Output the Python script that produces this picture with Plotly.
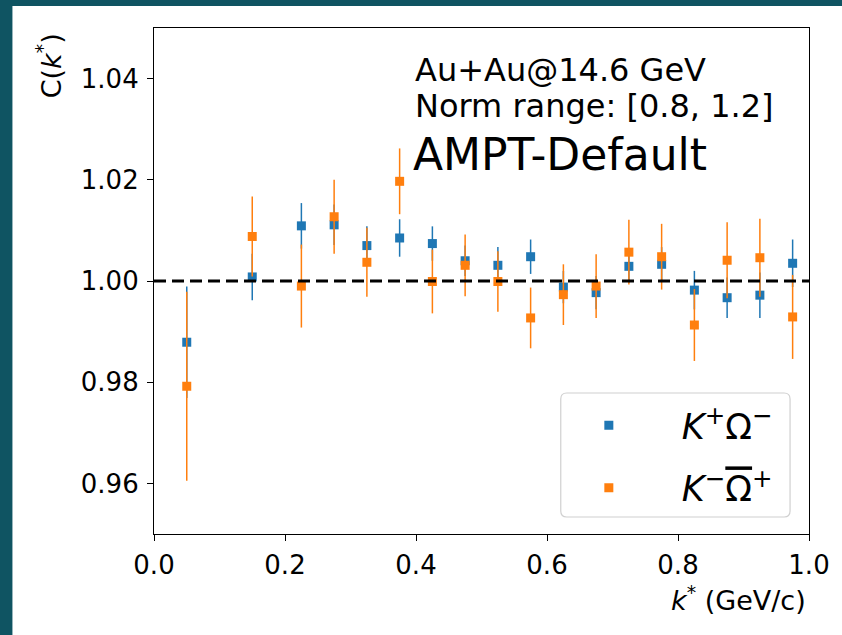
import plotly.graph_objects as go

# ---- data ----
k_star = [0.05, 0.15, 0.225, 0.275, 0.325, 0.375, 0.425, 0.475, 0.525, 0.575,
          0.625, 0.675, 0.725, 0.775, 0.825, 0.875, 0.925, 0.975]

c_kp_om = [0.9879, 1.0008, 1.0109, 1.0111, 1.0070, 1.0085, 1.0074, 1.0040, 1.0031, 1.0048,
           0.9988, 0.9977, 1.0029, 1.0033, 0.9982, 0.9967, 0.9972, 1.0035]
e_kp_om = [0.0110, 0.0046, 0.0045, 0.0040, 0.0038, 0.0037, 0.0034, 0.0030, 0.0036, 0.0034,
           0.0032, 0.0033, 0.0033, 0.0034, 0.0038, 0.0040, 0.0045, 0.0047]

c_km_omb = [0.9792, 1.0088, 0.9990, 1.0127, 1.0037, 1.0197, 0.9999, 1.0031, 0.9999, 0.9927,
            0.9973, 0.9990, 1.0057, 1.0048, 0.9913, 1.0041, 1.0046, 0.9929]
e_km_omb = [0.0187, 0.0079, 0.0082, 0.0073, 0.0068, 0.0065, 0.0063, 0.0061, 0.0060, 0.0060,
            0.0060, 0.0063, 0.0064, 0.0065, 0.0071, 0.0075, 0.0077, 0.0083]

x_ticks = [0.0, 0.2, 0.4, 0.6, 0.8, 1.0]
x_tick_labels = ["0.0", "0.2", "0.4", "0.6", "0.8", "1.0"]
y_ticks = [0.96, 0.98, 1.00, 1.02, 1.04]
y_tick_labels = ["0.96", "0.98", "1.00", "1.02", "1.04"]

label_kp = "<i>K</i><sup>+</sup>Ω<sup>−</sup>"
label_km = "<i>K</i><sup>−</sup><span style=\"text-decoration:overline\">Ω</span><sup>+</sup>"

BLUE = "#1f77b4"
ORANGE = "#ff7f0e"
FONT = "DejaVu Sans"

# ---- figure geometry (pixels) ----
W, H = 842, 635
L, R, T, B = 154, 811, 28, 534
pw, ph = R - L, B - T


def px(xp):
    return (xp - L) / pw


def py(yp):
    return (B - yp) / ph


fig = go.Figure()

fig.add_trace(go.Scatter(
    x=k_star, y=c_kp_om, mode="markers", name=label_kp, legendgroup="a",
    marker=dict(symbol="square", size=9, color=BLUE),
    error_y=dict(type="data", array=e_kp_om, color=BLUE, thickness=1.5, width=0),
))
fig.add_trace(go.Scatter(
    x=k_star, y=c_km_omb, mode="markers", name=label_km, legendgroup="b",
    marker=dict(symbol="square", size=9, color=ORANGE),
    error_y=dict(type="data", array=e_km_omb, color=ORANGE, thickness=1.5, width=0),
))

# reference line at C = 1
fig.add_shape(type="line", xref="paper", yref="y", x0=0, x1=1, y0=1.0, y1=1.0,
              line=dict(color="black", width=3, dash="12px,6px"), layer="above")

# white figure panel over teal page
fig.add_shape(type="rect", xref="paper", yref="paper",
              x0=px(12), x1=px(W + 5), y0=py(H + 5), y1=py(6),
              fillcolor="white", line=dict(width=0), layer="below")

# legend frame (rounded)
lx0, lx1, ly0, ly1, r = 562, 792, 393, 517, 6
path = (f"M {px(lx0 + r)},{py(ly0)} L {px(lx1 - r)},{py(ly0)} "
        f"Q {px(lx1)},{py(ly0)} {px(lx1)},{py(ly0 + r)} "
        f"L {px(lx1)},{py(ly1 - r)} Q {px(lx1)},{py(ly1)} {px(lx1 - r)},{py(ly1)} "
        f"L {px(lx0 + r)},{py(ly1)} Q {px(lx0)},{py(ly1)} {px(lx0)},{py(ly1 - r)} "
        f"L {px(lx0)},{py(ly0 + r)} Q {px(lx0)},{py(ly0)} {px(lx0 + r)},{py(ly0)} Z")
fig.add_shape(type="path", xref="paper", yref="paper", path=path,
              fillcolor="rgba(255,255,255,0.8)", line=dict(color="#d0d0d0", width=1.2),
              layer="above")

# text annotations
fig.add_annotation(x=px(414), y=py(70), xref="paper", yref="paper", text="Au+Au@14.6 GeV",
                   showarrow=False, xanchor="left", yanchor="middle",
                   font=dict(family=FONT, size=32, color="black"))
fig.add_annotation(x=px(414), y=py(106), xref="paper", yref="paper", text="Norm range: [0.8, 1.2]",
                   showarrow=False, xanchor="left", yanchor="middle",
                   font=dict(family=FONT, size=32, color="black"))
fig.add_annotation(x=px(412), y=py(154), xref="paper", yref="paper", text="AMPT-Default",
                   showarrow=False, xanchor="left", yanchor="middle",
                   font=dict(family=FONT, size=44, color="black"))

# axis titles
fig.add_annotation(x=px(48), y=py(66), xref="paper", yref="paper",
                   text="C(<i>k</i><sup>*</sup>)", showarrow=False, textangle=-90,
                   xanchor="center", yanchor="middle",
                   font=dict(family=FONT, size=27, color="black"))
fig.add_annotation(x=px(810), y=py(598), xref="paper", yref="paper",
                   text="<i>k</i><sup>*</sup> (GeV/c)", showarrow=False,
                   xanchor="right", yanchor="middle",
                   font=dict(family=FONT, size=27, color="black"))

fig.update_layout(
    width=W, height=H,
    margin=dict(l=L, r=W - R, t=T, b=H - B, pad=0),
    paper_bgcolor="#0f5462",
    plot_bgcolor="white",
    font=dict(family=FONT, size=26, color="black"),
    showlegend=True,
    legend=dict(x=px(537), y=py(396), xanchor="left", yanchor="top",
                bgcolor="rgba(0,0,0,0)", borderwidth=0,
                font=dict(family=FONT, size=35, color="black"),
                itemwidth=136, tracegroupgap=14, traceorder="grouped"),
    xaxis=dict(range=[0, 1], tickvals=x_ticks, ticktext=x_tick_labels,
               showgrid=False, zeroline=False, showline=True, linecolor="black",
               linewidth=1.2, mirror=True, ticks="outside", ticklen=6, tickwidth=1.2,
               tickcolor="black", ticklabelstandoff=2,
               tickfont=dict(family=FONT, size=26, color="black")),
    yaxis=dict(range=[0.95, 1.05], tickvals=y_ticks, ticktext=y_tick_labels,
               showgrid=False, zeroline=False, showline=True, linecolor="black",
               linewidth=1.2, mirror=True, ticks="outside", ticklen=6, tickwidth=1.2,
               tickcolor="black", ticklabelstandoff=3,
               tickfont=dict(family=FONT, size=26, color="black")),
)

fig.write_html("out.html", post_script="document.body.style.margin='0';",
               config={"displayModeBar": False})
